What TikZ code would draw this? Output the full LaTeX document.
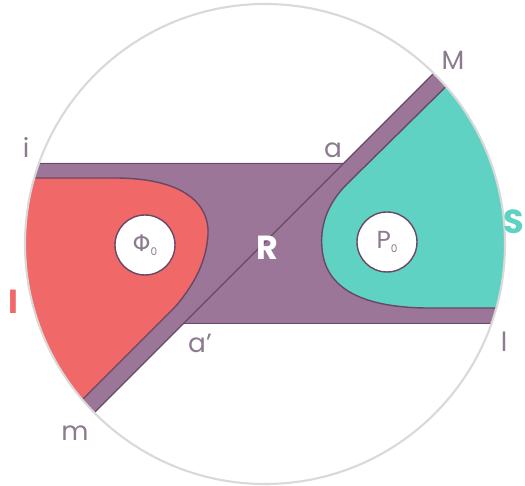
\documentclass[tikz,border=0pt]{standalone}
\usepackage{fontspec}
\setmainfont{Poppins}
\newfontfamily\grk{DejaVu Sans}
\usepackage{tikz}

\definecolor{band}{RGB}{156,118,152}
\definecolor{edge}{RGB}{104,72,100}
\definecolor{redreg}{RGB}{240,104,104}
\definecolor{tealreg}{RGB}{96,210,196}
\definecolor{lblcol}{RGB}{140,122,142}

\begin{document}
\begin{tikzpicture}[x=0.02cm, y=-0.02cm]
        \tikzstyle{lbl} = [text=lblcol, font=\fontsize{15}{15}\selectfont, inner sep=0pt]
        \tikzstyle{big} = [font=\fontsize{19}{19}\selectfont\bfseries, inner sep=0pt]
        \tikzstyle{hole} = [draw=edge, fill=white, circle, line width=0.8pt, minimum size=1.2cm, inner sep=0pt]
        \tikzstyle{rim} = [draw=edge, line width=0.8pt]
        \useasboundingbox (0,0) rectangle (525,486);
        \coordinate (O) at (265,244);
        \begin{scope}
          \clip (O) circle [radius=240];
          \fill[band] (-100,163) -- (344,163) -- (557,-50) -- (600,-50) -- (600,323)
            -- (184,323) -- (-93,600) -- (-100,600) -- cycle;
          \filldraw[fill=redreg, rim] (-10,178) -- (115,178) .. controls (185,178) and (210,205) .. (208,235)
            .. controls (206,262) and (195,283) .. (176,306) -- (50,432) -- (-10,432) -- cycle;
          \filldraw[fill=tealreg, rim] (480,53) -- (347,184) .. controls (327,204) and (320,226) .. (322,248)
            .. controls (325,290) and (365,307) .. (425,308) -- (560,308) -- (560,30) -- cycle;
          \draw[edge, line width=0.5pt] (-10,163) -- (344,163);
          \draw[edge, line width=0.5pt] (184,323) -- (560,323);
          \draw[edge, line width=0.8pt] (-60,567) -- (567,-60);
        \end{scope}
        \draw[black!15, line width=1.2pt] (O) circle [radius=240];
        \node[hole] (phi) at (145,245) {{\grk\fontsize{13}{13}\selectfont\color{lblcol}Φ}\raisebox{-0.35ex}{\color{lblcol}\fontsize{6}{6}\selectfont 0}};
        \node[hole] (p) at (387,242) {{\fontsize{14}{14}\selectfont\color{lblcol}P}\raisebox{-0.35ex}{\color{lblcol}\fontsize{6}{6}\selectfont 0}};
        \node[big, text=white] (R) at (267,248) {R};
        \node[big, text=tealreg] (S) at (514,222) {S};
        \node[big, text=redreg] (I) at (13,302) {I};
        \node[lbl] (i) at (26,147) {i};
        \node[lbl] (a) at (333,150) {a};
        \node[lbl] (M) at (453,60) {M};
        \node[lbl] (a2) at (200,343) {a\char"0027};
        \node[lbl] (l) at (504,342) {l};
        \node[lbl] (m) at (75,433) {m};
      \end{tikzpicture}
\end{document}
